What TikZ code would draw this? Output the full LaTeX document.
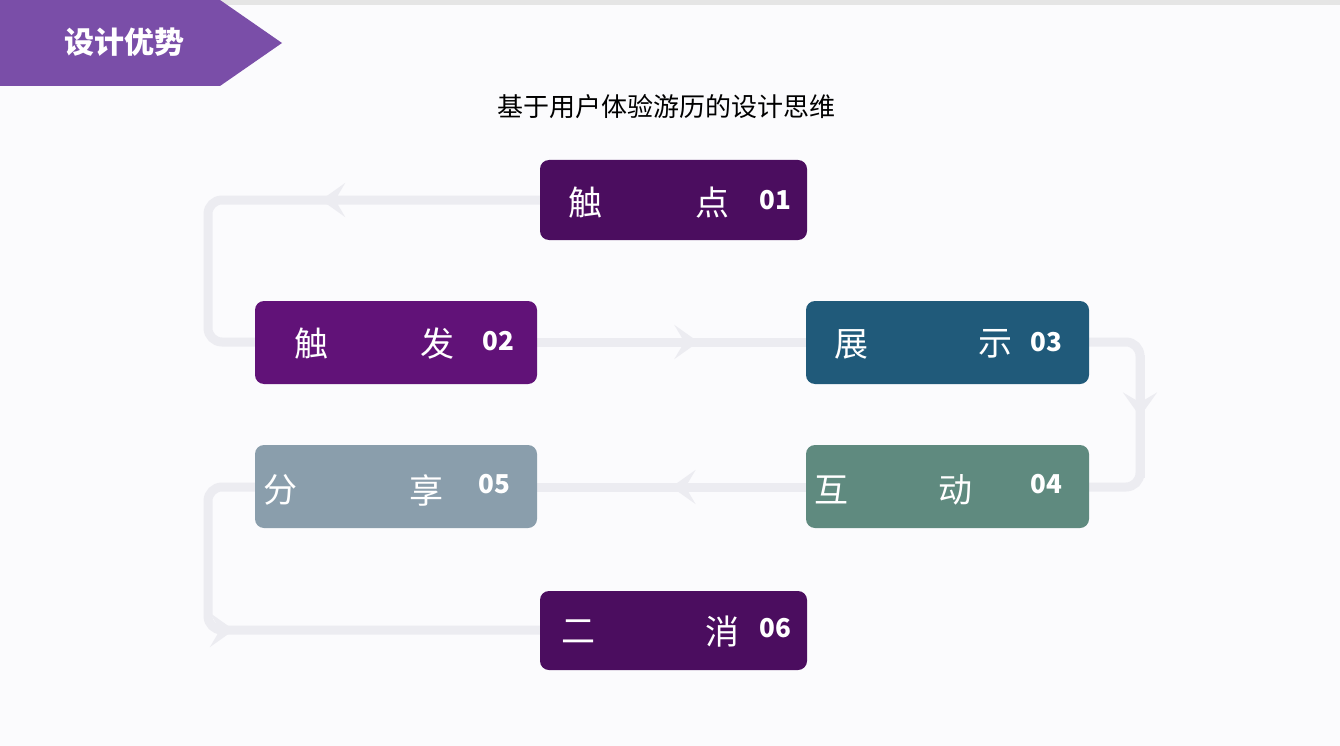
\documentclass[tikz,border=0pt]{standalone}
\usepackage{fontspec}
\newfontfamily\cjk{Noto Sans CJK SC}
\usetikzlibrary{arrows.meta,decorations.markings}
\definecolor{bgc}{HTML}{FBFBFD}
\definecolor{linec}{HTML}{ECECF1}
\definecolor{cA}{HTML}{4B0D5F}
\definecolor{cB}{HTML}{611278}
\definecolor{cC}{HTML}{205A7A}
\definecolor{cD}{HTML}{5F8A7F}
\definecolor{cE}{HTML}{8A9EAC}
\definecolor{banner}{HTML}{7A4EA8}
\tikzset{
  x=1pt,y=-1pt,
  stepbox/.style={rounded corners=9pt,text=white},
  conn/.style={draw=linec,line width=9pt,rounded corners=14pt},
  chev/.style={decoration={markings,mark=at position #1 with {\arrow[linec]{Stealth[length=24pt,width=34pt,inset=10pt]}}},postaction={decorate}},
  big/.style={text=white,font=\cjk\fontsize{34}{34}\selectfont,anchor=center},
  num/.style={text=white,font=\cjk\bfseries\fontsize{26}{26}\selectfont,anchor=center}
}
\begin{document}
\begin{tikzpicture}
\useasboundingbox (0,0) rectangle (1340,746);
\fill[bgc] (0,0) rectangle (1340,746);
\fill[gray!20] (0,0) rectangle (1340,5);
\fill[banner] (0,0) -- (220,0) -- (282,43) -- (220,86) -- (0,86) -- cycle;
\node[text=white,font=\cjk\bfseries\fontsize{30}{30}\selectfont] (hdr) at (124,42) {设计优势};
\node[font=\cjk\fontsize{26}{26}\selectfont] (title) at (666,107) {基于用户体验游历的设计思维};
% connectors (drawn first)
\coordinate (p1) at (540,200);
\coordinate (p2) at (255,342);
\coordinate (p3) at (1089,342);
\coordinate (p4) at (1089,487);
\coordinate (p5) at (255,487);
\coordinate (p6) at (540,630);
\draw[conn,chev=0.43] (p1) -- (208,200) -- (208,342) -- (p2);
\draw[conn,chev=0.6] (537,342) -- (806,342);
\draw[conn] (p3) -- (1140,342) -- (1140,487) -- (p4);
\draw[conn,chev=0.5] (1140,355) -- (1140,478);
\draw[conn,chev=0.5] (806,487) -- (537,487);
\draw[conn,chev=0.4] (p5) -- (208,487) -- (208,630) -- (p6);
% boxes
\fill[cA,stepbox] (540,160) rectangle (807,240);
\node[big] (a1) at (585,203) {触}; \node[big] (a2) at (712,203) {点}; \node[num] (a3) at (775,200) {01};
\fill[cB,stepbox] (255,301) rectangle (537,384);
\node[big] (b1) at (311,344) {触}; \node[big] (b2) at (437,344) {发}; \node[num] (b3) at (498,341) {02};
\fill[cC,stepbox] (806,301) rectangle (1089,384);
\node[big] (c1) at (851,344) {展}; \node[big] (c2) at (995,344) {示}; \node[num] (c3) at (1046,342) {03};
\fill[cD,stepbox] (806,445) rectangle (1089,528);
\node[big] (d1) at (831,490) {互}; \node[big] (d2) at (955,490) {动}; \node[num] (d3) at (1046,484) {04};
\fill[cE,stepbox] (255,445) rectangle (537,528);
\node[big] (e1) at (280,490) {分}; \node[big] (e2) at (426,490) {享}; \node[num] (e3) at (494,484) {05};
\fill[cA,stepbox] (540,591) rectangle (807,670);
\node[big] (f1) at (578,632) {二}; \node[big] (f2) at (722,632) {消}; \node[num] (f3) at (775,628) {06};
\end{tikzpicture}
\end{document}
